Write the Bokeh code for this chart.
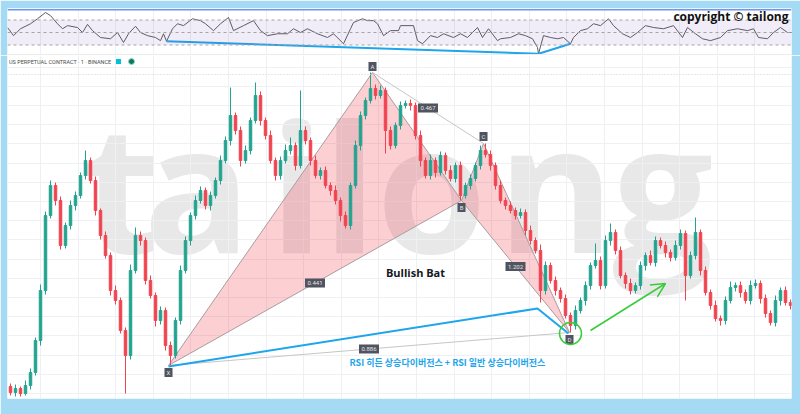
import numpy as np
from bokeh.plotting import figure
from bokeh.layouts import column
from bokeh.models import (Range1d, Span, BoxAnnotation, Label, Arrow, OpenHead,
                          FixedTicker, ColumnDataSource)
from bokeh.core.properties import value
from bokeh.embed import file_html
from bokeh.resources import INLINE

# ---------------- data ----------------
close = [8, 12, 7, 15, 28, 60, 110, 185, 215, 200,
         155, 175, 195, 205, 225, 240, 220, 190, 165, 145,
         110, 100, 70, 45, 130, 165, 160, 120, 105, 80,
         90, 55, 45, 80, 130, 160, 185, 200, 210, 195,
         205, 220, 240, 260, 285, 270, 240, 250, 280, 305,
         280, 265, 240, 225, 240, 250, 255, 235, 270, 260,
         240, 225, 230, 215, 210, 200, 185, 175, 215, 255,
         285, 300, 312, 305, 310, 270, 255, 275, 295, 297,
         295, 265, 240, 225, 240, 228, 245, 230, 222, 235,
         205, 215, 222, 235, 250, 246, 235, 215, 200, 195,
         190, 185, 188, 170, 160, 150, 110, 135, 120, 110,
         102, 85, 75, 90, 100, 115, 135, 140, 115, 160,
         168, 150, 125, 117, 110, 115, 135, 145, 138, 160,
         155, 148, 143, 155, 167, 125, 145, 168, 130, 108,
         95, 82, 80, 100, 113, 115, 108, 100, 115, 117,
         102, 87, 78, 100, 110, 98, 95]
first_open = 14
wick_up = [3, 4, 2, 5, 4, 3, 6, 4, 5, 3,
           4, 3, 5, 4, 3, 10, 3, 4, 2, 4,
           3, 5, 3, 3, 6, 8, 4, 3, 5, 3,
           4, 3, 4, 3, 5, 4, 3, 5, 4, 3,
           4, 3, 5, 4, 28, 3, 4, 5, 3, 13,
           4, 3, 5, 3, 4, 6, 8, 3, 40, 4,
           3, 5, 3, 4, 3, 5, 3, 4, 3, 5,
           4, 3, 16, 4, 5, 3, 4, 3, 4, 3,
           4, 3, 5, 3, 6, 3, 4, 3, 5, 3,
           4, 3, 4, 3, 5, 7, 4, 3, 5, 3,
           4, 3, 4, 3, 5, 3, 6, 4, 3, 4,
           3, 4, 3, 5, 3, 4, 3, 17, 4, 5,
           9, 3, 4, 3, 5, 3, 4, 3, 5, 4,
           3, 4, 3, 5, 4, 3, 4, 15, 3, 4,
           3, 5, 3, 4, 6, 3, 4, 3, 5, 4,
           3, 4, 3, 5, 3, 4, 3]
wick_dn = [3, 4, 3, 2, 4, 3, 5, 4, 3, 5,
           4, 3, 4, 5, 3, 4, 3, 5, 4, 3,
           5, 4, 3, 38, 4, 3, 5, 4, 3, 6,
           4, 5, 10, 3, 4, 3, 5, 4, 3, 4,
           5, 3, 4, 3, 5, 4, 6, 3, 4, 3,
           5, 4, 3, 5, 4, 3, 4, 5, 3, 4,
           5, 3, 4, 3, 5, 4, 6, 3, 4, 3,
           5, 4, 3, 4, 3, 23, 4, 3, 4, 3,
           5, 4, 6, 3, 4, 5, 3, 4, 3, 4,
           5, 3, 4, 3, 4, 3, 5, 4, 3, 4,
           3, 4, 3, 5, 4, 3, 12, 4, 3, 5,
           4, 3, 7, 4, 3, 5, 4, 3, 4, 3,
           5, 4, 3, 5, 4, 3, 4, 5, 3, 4,
           3, 5, 4, 3, 4, 25, 3, 4, 5, 3,
           4, 3, 5, 4, 3, 4, 5, 3, 4, 3,
           5, 4, 3, 4, 5, 3, 4]

rsi_idx = [-0.6, 0.6, 2, 4, 5.4, 7, 8, 9.4, 10.4, 11.4,
           13.4, 14.4, 15.4, 16.4, 18, 20, 21.4, 22.6, 23.6, 25,
           26, 27.4, 29, 30, 30.6, 31.2, 32.4, 33.4, 34.6, 36.4,
           38, 39, 40.6, 42, 43.6, 44.6, 46.6, 48.6, 50, 51.4,
           53.4, 55.4, 56.6, 58, 59.4, 61.4, 63.4, 64.6, 66.6, 68,
           68.6, 70.4, 71.4, 72.6, 73.4, 74.6, 76, 77.6, 78, 80.6,
           81.4, 82.4, 84, 85.4, 86.6, 88.6, 90, 91.4, 93.4, 94.4,
           95.6, 97.4, 98, 100, 101.6, 103, 104.4, 105.4, 105.6, 106.6,
           108, 109.4, 110.6, 112, 112.6, 114, 115.4, 116.6, 118, 119.6,
           120.6, 122.4, 124, 125.4, 127, 128.6, 130.6, 132.6, 134.4, 135.4,
           137, 138.4, 140, 142, 143.4, 145.4, 147.4, 148.6, 149.6, 151.4,
           152.6, 154, 155.4, 156.4]
rsi_val = [58, 45, 56, 64, 72, 82, 77, 64, 56, 61,
           58, 50, 63, 53, 42, 40, 50, 34, 48, 60,
           50, 45, 42, 37, 48, 36, 56, 64, 61, 72,
           69, 64, 53, 64, 74, 53, 61, 69, 53, 45,
           48, 48, 56, 50, 56, 48, 42, 48, 32, 56,
           66, 72, 69, 69, 64, 45, 53, 53, 61, 61,
           37, 32, 45, 42, 48, 42, 48, 42, 58, 42,
           56, 37, 40, 42, 48, 45, 40, 26, 16, 45,
           42, 40, 42, 32, 42, 53, 56, 64, 61, 72,
           61, 48, 42, 50, 61, 58, 56, 61, 42, 58,
           48, 40, 37, 42, 53, 56, 53, 56, 42, 40,
           50, 58, 50, 50]
rsi_levels = [70, 50, 30]

pattern_names = ["X", "A", "B", "C", "D"]
pattern_idx = [31.6, 72.4, 90.2, 94.6, 111.8]
pattern_price = [35, 328, 200, 257, 68]
ratio_pairs = [("X", "B"), ("A", "C"), ("B", "D"), ("X", "D")]
ratio_text = ["0.441", "0.467", "1.202", "0.886"]

div_price_idx = [31.6, 105.4, 111.6]
div_price_val = [34, 92, 67]
div_rsi_idx = [31.2, 105.6, 112]
div_rsi_val = [36, 16, 32]

circle_pt = [112, 67]
arrow_pts = [116, 70, 131, 117]

watermark_letters = ["t", "a", "i", "l", "o", "n", "g"]
watermark_idx = [14.4, 26.6, 51.8, 62.4, 73.2, 97.4, 120.4]

# ---------------- styles ----------------
UP = "#22a38f"
DN = "#f0434f"
BLUE = "#1ea5ec"
GREEN = "#38cc38"
FRAME = "#a5daf4"
GRID = "#eef0f4"
W = 800

xr = Range1d(-0.6, 156.2)
vticks = list(np.arange(6, 157, 7.52))

# ---------------- RSI pane ----------------
top = figure(width=W, height=55, x_range=xr, y_range=Range1d(13.2, 88.4),
             x_axis_location=None, y_axis_location=None, output_backend="svg",
             toolbar_location=None, min_border_left=7, min_border_right=9,
             min_border_top=8, min_border_bottom=0, border_fill_color=FRAME,
             outline_line_color=None, title=None)
top.ygrid.visible = False
top.xgrid.ticker = FixedTicker(ticks=vticks)
top.xgrid.grid_line_color = GRID
top.add_layout(BoxAnnotation(bottom=rsi_levels[2], top=rsi_levels[0], fill_color="#7e57c2",
                             fill_alpha=0.11, line_alpha=0))
for lv in rsi_levels:
    top.add_layout(Span(location=lv, dimension="width", line_color="#a4a4a4",
                        line_dash="3 3", line_width=1))
top.add_layout(Span(location=86.6, dimension="width", line_color="#7393f0", line_width=1.5))
top.add_layout(Span(location=14.8, dimension="width", line_color="#ececec", line_width=1))
top.line(rsi_idx, rsi_val, line_color="#5c5c5c", line_width=1)
top.line(div_rsi_idx, div_rsi_val, line_color=BLUE, line_width=2)
top.add_layout(Label(x=155.6, y=75.6, text="copyright © tailong", text_align="right",
                     text_baseline="middle", text_font="Open Sans", text_font_style="bold",
                     text_font_size="12px", text_color="#111111"))

# ---------------- main pane ----------------
main = figure(width=W, height=359, x_range=xr, y_range=Range1d(2, 345),
              x_axis_location=None, y_axis_location=None, output_backend="svg",
              toolbar_location=None, min_border_left=7, min_border_right=9,
              min_border_top=0, min_border_bottom=16,
              border_fill_color=FRAME, outline_line_color=None, title=None)
main.xgrid.ticker = FixedTicker(ticks=vticks)
main.ygrid.ticker = FixedTicker(ticks=list(np.arange(7, 340, 19.2)))
main.grid.grid_line_color = GRID

for ch, xi in zip(watermark_letters, watermark_idx):
    main.add_layout(Label(x=xi, y=216.5, text=ch, text_font="Open Sans",
                          text_font_style="bold", text_font_size="178px",
                          text_color="#e8e8e9", text_baseline="alphabetic", level="image"))
main.add_layout(Span(location=326, dimension="width", line_color="#cfcfcf",
                     line_dash="1 2", line_width=1))

n = len(close)
opens = [first_open] + close[:-1]
highs = [max(o, c) + u for o, c, u in zip(opens, close, wick_up)]
lows = [min(o, c) - d for o, c, d in zip(opens, close, wick_dn)]
colors = [UP if c >= o else DN for o, c in zip(opens, close)]
src = ColumnDataSource(dict(x=list(range(n)), h=highs, l=lows,
                            top=[max(o, c) for o, c in zip(opens, close)],
                            bot=[min(o, c) for o, c in zip(opens, close)], col=colors))

# harmonic triangles (under candles)
P = {k: (xi, yi) for k, xi, yi in zip(pattern_names, pattern_idx, pattern_price)}
tri_x = [[P[k][0] for k in "XAB"], [P[k][0] for k in "BCD"]]
tri_y = [[P[k][1] for k in "XAB"], [P[k][1] for k in "BCD"]]
main.patches(tri_x, tri_y, fill_color="#f23645", fill_alpha=0.24,
             line_color="#aa9c9e", line_width=1)
main.multi_line([[P["A"][0], P["C"][0]], [P["X"][0], P["D"][0]]],
                [[P["A"][1], P["C"][1]], [P["X"][1], P["D"][1]]],
                line_color="#c6c6c6", line_width=1)

main.segment(x0="x", y0="l", x1="x", y1="h", line_color="col", line_width=1, source=src)
main.vbar(x="x", width=0.5, top="top", bottom="bot", fill_color="col",
          line_color="col", line_width=1, source=src)

# ratio labels at midpoints
mx = [(P[a][0] + P[b][0]) / 2 for a, b in ratio_pairs]
my = [(P[a][1] + P[b][1]) / 2 for a, b in ratio_pairs]
main.rect(mx, my, width=20, height=9, width_units="screen", height_units="screen",
          fill_color="#505360", line_color=None)
main.text(mx, my, text=ratio_text, text_color="#e6e6e6", text_font_size="6px",
          text_align="center", text_baseline="middle", text_font=value("Roboto"))

# point labels
offs = [-7, 6, -7, 7, -7]
ly = [p + o for p, o in zip(pattern_price, offs)]
main.rect(pattern_idx, ly, width=8, height=9, width_units="screen", height_units="screen",
          fill_color="#505360", line_color=None)
main.text(pattern_idx, ly, text=pattern_names, text_color="#e6e6e6", text_font_size="6px",
          text_align="center", text_baseline="middle", text_font=value("Roboto"))

# RSI divergence line on price
main.line(div_price_idx, div_price_val, line_color=BLUE, line_width=2)

# green annotations
main.scatter([circle_pt[0]], [circle_pt[1]], marker="circle", size=22, fill_color=None,
             line_color=GREEN, line_width=1.5)
main.add_layout(Arrow(x_start=arrow_pts[0], y_start=arrow_pts[1], x_end=arrow_pts[2],
                      y_end=arrow_pts[3], line_color=GREEN, line_width=1.5,
                      end=OpenHead(size=14, line_color=GREEN, line_width=1.5)))

main.add_layout(Label(x=81, y=128, text="Bullish Bat", text_align="center",
                      text_baseline="middle", text_font="Open Sans", text_font_style="bold",
                      text_font_size="11px", text_color="#131722"))
main.add_layout(Label(x=87.4, y=38, text="RSI 히든 상승다이버전스 + RSI 일반 상승다이버전스",
                      text_align="center", text_baseline="middle",
                      text_font="Noto Sans CJK KR", text_font_style="bold",
                      text_font_size="9px", text_color=BLUE))

main.add_layout(Label(x=-0.3, y=339, text="US PERPETUAL CONTRACT · 1 · BINANCE",
                      text_align="left", text_baseline="middle", text_font="Roboto",
                      text_font_size="5.5px", text_color="#4a4a4a"))
main.scatter([21.6], [339], marker="square", size=5, fill_color="#00c2dd", line_color=None)
main.scatter([24.2], [339], marker="circle", size=6, fill_color="#0b7a5c", line_color="#8fd9c4")

layout = column(top, main)
open("out.html", "w").write(file_html(layout, INLINE))
